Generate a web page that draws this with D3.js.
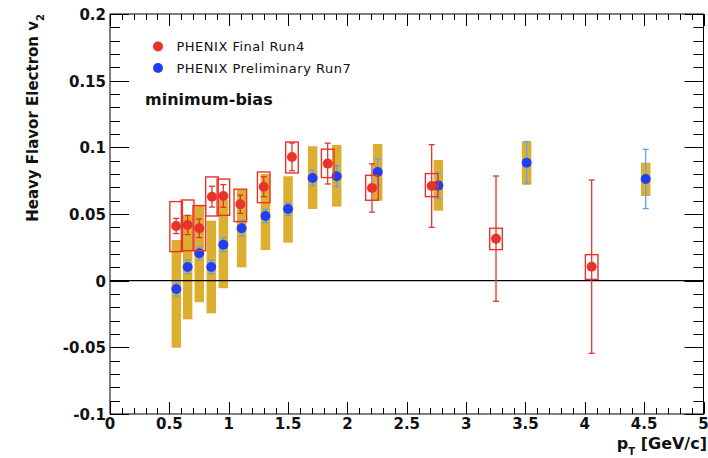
<!DOCTYPE html>
<html>
<head>
<meta charset="utf-8">
<script src="https://cdn.jsdelivr.net/npm/d3@7"></script>
<style>
  html, body { margin: 0; padding: 0; background: #fff; }
  svg { display: block; font-family: "DejaVu Sans", "Liberation Sans", Arial, sans-serif; }
</style>
</head>
<body>
<svg id="chart" width="708" height="458"></svg>
<script>
// PHENIX Run4 (final) heavy-flavor electron v2
const run4Pt    = [0.557, 0.654, 0.752, 0.859, 0.955, 1.098, 1.295, 1.533, 1.834, 2.207, 2.71, 3.252, 4.058];
const run4V2    = [0.041, 0.0418, 0.0393, 0.063, 0.0635, 0.0573, 0.0705, 0.0928, 0.0878, 0.0695, 0.071, 0.0315, 0.0105];
const run4Stat  = [0.0057, 0.0072, 0.007, 0.0078, 0.0085, 0.0069, 0.0075, 0.0104, 0.0153, 0.0181, 0.031, 0.047, 0.065];
const run4SysLo = [0.0218, 0.0225, 0.0225, 0.0485, 0.049, 0.0443, 0.0585, 0.0808, 0.0773, 0.0603, 0.063, 0.0233, 0.001];
const run4SysHi = [0.0593, 0.0605, 0.0563, 0.0778, 0.0762, 0.0686, 0.0815, 0.104, 0.0986, 0.079, 0.0803, 0.0393, 0.0195];

// PHENIX Run7 (preliminary) heavy-flavor electron v2
const run7Pt    = [0.559, 0.654, 0.752, 0.853, 0.955, 1.109, 1.31, 1.5, 1.707, 1.91, 2.255, 2.766, 3.51, 4.513];
const run7V2    = [-0.0062, 0.0103, 0.0205, 0.0103, 0.027, 0.0393, 0.0485, 0.0537, 0.077, 0.0783, 0.0815, 0.0713, 0.0885, 0.0763];
const run7Stat  = [0.0054, 0.0051, 0.0051, 0.0051, 0.0052, 0.0058, 0.005, 0.0047, 0.0057, 0.008, 0.0098, 0.0096, 0.0158, 0.0222];
const run7SysLo = [-0.0503, -0.029, -0.0162, -0.0245, -0.0057, 0.010, 0.023, 0.0285, 0.0538, 0.0555, 0.060, 0.0525, 0.072, 0.0635];
const run7SysHi = [0.0305, 0.0493, 0.0568, 0.045, 0.0605, 0.068, 0.080, 0.0783, 0.1008, 0.1018, 0.1025, 0.0905, 0.1045, 0.0885];

const xTickLabels = ["0", "0.5", "1", "1.5", "2", "2.5", "3", "3.5", "4", "4.5", "5"];
const yTickLabels = ["-0.1", "-0.05", "0", "0.05", "0.1", "0.15", "0.2"];

const legendItems = ["PHENIX Final Run4", "PHENIX Preliminary Run7"];

const run4 = run4Pt.map((x, i) => ({ x, y: run4V2[i], e: run4Stat[i], lo: run4SysLo[i], hi: run4SysHi[i] }));
const run7 = run7Pt.map((x, i) => ({ x, y: run7V2[i], e: run7Stat[i], lo: run7SysLo[i], hi: run7SysHi[i] }));

const RED = "#e8332b", BLUE = "#1f3ff5", LIGHTBLUE = "#5ea3ee", GOLD = "#dcaf30";

const svg = d3.select("#chart");
const L = 110, R = 703.5, T = 14, B = 414;
const x = d3.scaleLinear().domain([0, 5]).range([L, R]);
const y = d3.scaleLinear().domain([-0.1, 0.2]).range([B, T]);

// frame
svg.append("rect").attr("x", L).attr("y", T).attr("width", R - L).attr("height", B - T)
  .attr("fill", "none").attr("stroke", "#000").attr("stroke-width", 1);

// ticks on all four sides (major + minor)
const ticksG = svg.append("g").attr("stroke", "#000").attr("stroke-width", 1);
d3.range(0, 51).forEach(i => {
  const v = i * 0.1, px = Math.round(x(v)) + 0.5;
  const len = (i % 5 === 0) ? 12 : 6;
  ticksG.append("line").attr("x1", px).attr("x2", px).attr("y1", B).attr("y2", B - len);
  ticksG.append("line").attr("x1", px).attr("x2", px).attr("y1", T).attr("y2", T + len);
});
d3.range(0, 31).forEach(i => {
  const v = -0.1 + i * 0.01, py = Math.round(y(v)) + 0.5;
  const len = (i % 5 === 0) ? 19 : 10;
  ticksG.append("line").attr("x1", L).attr("x2", L + len).attr("y1", py).attr("y2", py);
  ticksG.append("line").attr("x1", R).attr("x2", R - len).attr("y1", py).attr("y2", py);
});

// tick labels
svg.append("g").selectAll("text").data(xTickLabels).join("text")
  .attr("x", d => x(+d)).attr("y", 429)
  .attr("text-anchor", "middle").attr("font-size", 15).attr("font-weight", "bold")
  .attr("fill", "#111").text(d => d);
svg.append("g").selectAll("text").data(yTickLabels).join("text")
  .attr("x", 106).attr("y", d => y(+d) + 6)
  .attr("text-anchor", "end").attr("font-size", 15).attr("font-weight", "bold")
  .attr("fill", "#111").text(d => d);

// axis titles
const xt = svg.append("text").attr("x", 707).attr("y", 449).attr("text-anchor", "end")
  .attr("font-size", 16).attr("font-weight", "bold").attr("fill", "#111");
xt.append("tspan").text("p");
xt.append("tspan").attr("font-size", 10).attr("dy", 6).text("T");
xt.append("tspan").attr("dy", -6).text(" [GeV/c]");

const yt = svg.append("text").attr("transform", `translate(38,${T}) rotate(-90)`)
  .attr("text-anchor", "end").attr("font-size", 15).attr("font-weight", "bold").attr("fill", "#111");
yt.append("tspan").text("Heavy Flavor Electron v");
yt.append("tspan").attr("font-size", 10).attr("dy", 6).text("2");

// Run7 systematic bands
const bandW = x(0.04) - x(0);
svg.append("g").selectAll("rect").data(run7).join("rect")
  .attr("x", d => x(d.x) - bandW).attr("width", 2 * bandW)
  .attr("y", d => y(d.hi)).attr("height", d => y(d.lo) - y(d.hi))
  .attr("fill", GOLD);

// zero line
svg.append("line").attr("x1", L).attr("x2", R).attr("y1", y(0)).attr("y2", y(0))
  .attr("stroke", "#000").attr("stroke-width", 1.2);

// Run7 statistical errors + points
const cap = 3;
const g7 = svg.append("g").attr("stroke", LIGHTBLUE).attr("stroke-width", 1.3);
run7.forEach(d => {
  g7.append("line").attr("x1", x(d.x)).attr("x2", x(d.x)).attr("y1", y(d.y - d.e)).attr("y2", y(d.y + d.e));
  g7.append("line").attr("x1", x(d.x) - cap).attr("x2", x(d.x) + cap).attr("y1", y(d.y - d.e)).attr("y2", y(d.y - d.e));
  g7.append("line").attr("x1", x(d.x) - cap).attr("x2", x(d.x) + cap).attr("y1", y(d.y + d.e)).attr("y2", y(d.y + d.e));
});
svg.append("g").selectAll("circle").data(run7).join("circle")
  .attr("cx", d => x(d.x)).attr("cy", d => y(d.y)).attr("r", 5).attr("fill", BLUE);

// Run4 systematic boxes
const boxW = x(0.053) - x(0);
svg.append("g").selectAll("rect").data(run4).join("rect")
  .attr("x", d => x(d.x) - boxW).attr("width", 2 * boxW)
  .attr("y", d => y(d.hi)).attr("height", d => y(d.lo) - y(d.hi))
  .attr("fill", "none").attr("stroke", RED).attr("stroke-width", 1.4);

// Run4 statistical errors + points
const g4 = svg.append("g").attr("stroke", RED).attr("stroke-width", 1.3);
run4.forEach(d => {
  g4.append("line").attr("x1", x(d.x)).attr("x2", x(d.x)).attr("y1", y(d.y - d.e)).attr("y2", y(d.y + d.e));
  g4.append("line").attr("x1", x(d.x) - cap).attr("x2", x(d.x) + cap).attr("y1", y(d.y - d.e)).attr("y2", y(d.y - d.e));
  g4.append("line").attr("x1", x(d.x) - cap).attr("x2", x(d.x) + cap).attr("y1", y(d.y + d.e)).attr("y2", y(d.y + d.e));
});
svg.append("g").selectAll("circle").data(run4).join("circle")
  .attr("cx", d => x(d.x)).attr("cy", d => y(d.y)).attr("r", 5).attr("fill", RED);

// legend
const leg = svg.append("g");
legendItems.forEach((t, i) => {
  const ly = 46.5 + i * 21.5;
  leg.append("circle").attr("cx", 158).attr("cy", ly).attr("r", 5).attr("fill", i === 0 ? RED : BLUE);
  leg.append("text").attr("x", 176.5).attr("y", ly + 4.5).attr("font-size", 13)
    .attr("letter-spacing", 0.5).attr("fill", "#111").text(t);
});
svg.append("text").attr("x", 145).attr("y", 105).attr("font-size", 16).attr("font-weight", "bold")
  .attr("fill", "#111").text("minimum-bias");
</script>
</body>
</html>
